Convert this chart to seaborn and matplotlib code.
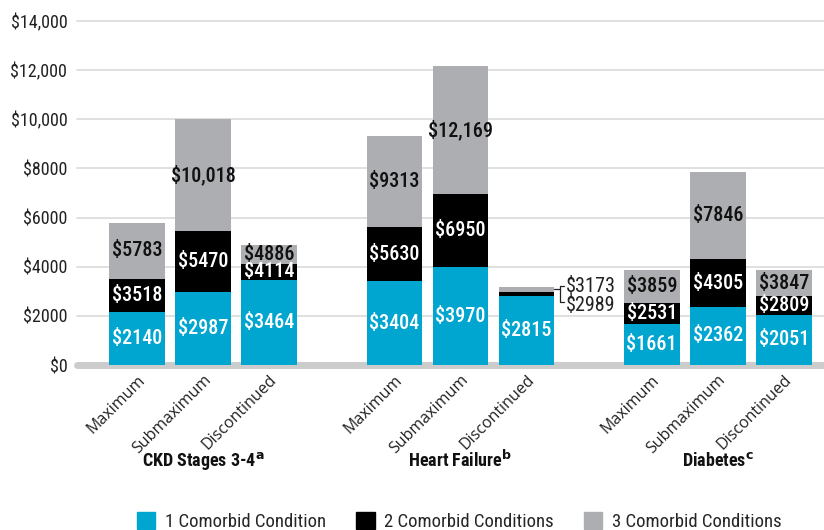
import matplotlib
matplotlib.use("Agg")
import matplotlib.pyplot as plt
import seaborn as sns
from matplotlib.patches import Patch
from matplotlib import font_manager as fm

# Data (cumulative cost per comorbidity count)
groups = ["CKD Stages 3-4$^{\\mathbf{a}}$", "Heart Failure$^{\\mathbf{b}}$", "Diabetes$^{\\mathbf{c}}$"]
doses = ["Maximum", "Submaximum", "Discontinued"]
one_cond = [2140, 2987, 3464, 3404, 3970, 2815, 1661, 2362, 2051]
two_cond = [3518, 5470, 4114, 5630, 6950, 2989, 2531, 4305, 2809]
three_cond = [5783, 10018, 4886, 9313, 12169, 3173, 3859, 7846, 3847]
series_names = ["1 Comorbid Condition", "2 Comorbid Conditions", "3 Comorbid Conditions"]

BLUE = "#00a5d0"
BLACK = "#000000"
GRAY = "#adaeb1"

sns.set_theme(style="white")

# pick a narrow font if one is there
fonts = fm.fontManager.ttflist
names = {f.name for f in fonts}
stretch = "normal"
family = None
for cand in ["Liberation Sans Narrow", "DejaVu Sans Condensed", "Roboto Condensed", "Open Sans Condensed"]:
    if cand in names:
        family = cand
        break
if family is None:
    if any(f.name == "DejaVu Sans" and f.stretch in ("condensed", "semi-condensed") for f in fonts):
        family, stretch = "DejaVu Sans", "condensed"
    else:
        family = "Roboto" if "Roboto" in names else "DejaVu Sans"
narrow = family != "Roboto" and not (family == "DejaVu Sans" and stretch == "normal")
plt.rcParams["font.family"] = [family, "DejaVu Sans"]
plt.rcParams["font.stretch"] = stretch
plt.rcParams["mathtext.fontset"] = "dejavusans"

fs_tick = 13 if narrow else 12
fs_val = 14.5 if narrow else 13
fs_leg = 13.5 if narrow else 11.5

# layout: 3 groups of 3 bars
pos = [g * 3.9 + i for g in range(3) for i in range(3)]

fig = plt.figure(figsize=(8.24, 5.30), dpi=100)
ax = fig.add_axes([77 / 824, 165 / 530, 1 - 77 / 824, 344 / 530])

for vals, col in [(three_cond, GRAY), (two_cond, BLACK), (one_cond, BLUE)]:
    sns.barplot(x=pos, y=vals, native_scale=True, color=col, width=0.845,
                saturation=1, errorbar=None, linewidth=0, edgecolor="none",
                ax=ax, zorder=3)

ax.set_xlim(-0.91, 10.41)
ax.set_ylim(0, 14000)
yt = list(range(0, 14001, 2000))
ax.set_yticks(yt)
ax.set_yticklabels([f"${v:,}" if v >= 10000 else f"${v}" for v in yt],
                   fontsize=fs_tick, color="#222222")
ax.tick_params(axis="y", length=0, pad=7)
for v in yt[1:]:
    ax.axhline(v, color="#dddddd", lw=1.3, zorder=1, clip_on=False)
ax.axhline(0, color="#cccccc", lw=5, zorder=2, clip_on=False)
for s in ax.spines.values():
    s.set_visible(False)

ax.set_xticks(pos)
ax.set_xticklabels(doses * 3, rotation=45, ha="right", va="top",
                   rotation_mode="anchor", fontsize=11.5, color="#222222",
                   family=["Open Sans", "DejaVu Sans"])
ax.tick_params(axis="x", length=0, pad=5)
ax.set_xlabel("")
ax.set_ylabel("")

# value labels
for k, x in enumerate(pos):
    a, b, c = one_cond[k], two_cond[k], three_cond[k]
    ax.text(x, a / 2, f"${a}", ha="center", va="center", color="white",
            fontsize=fs_val, fontweight="medium", zorder=5)
    if k == 5:
        xr = x + 0.845 / 2
        xa, xb = xr + 0.09, xr + 0.15
        ym = (b + c) / 2
        ax.plot([xr, xa, xa, xb], [ym, ym, 3220, 3220], color="#222222", lw=0.9, clip_on=False)
        ax.plot([xa, xa, xb], [ym, 2560, 2560], color="#222222", lw=0.9, clip_on=False)
        ax.text(xb + 0.02, 3200, f"${c}", ha="left", va="center",
                color="#222222", fontsize=fs_val)
        ax.text(xb + 0.02, 2430, f"${b}", ha="left", va="center",
                color="#222222", fontsize=fs_val)
        continue
    ax.text(x, (a + b) / 2, f"${b}", ha="center", va="center", color="white",
            fontsize=fs_val, fontweight="medium", zorder=5)
    ax.text(x, (b + c) / 2, f"${c:,}" if c >= 10000 else f"${c}", ha="center",
            va="center", color="#111111", fontsize=fs_val, fontweight="medium", zorder=5)

# group labels
for g, name in enumerate(groups):
    ax.text(g * 3.9 + 1, -0.295, name, transform=ax.get_xaxis_transform(),
            ha="center", va="baseline", fontsize=fs_tick, fontweight="bold", color="#111111")

handles = [Patch(color=c) for c in (BLUE, BLACK, GRAY)]
fig.legend(handles, series_names, loc="center", bbox_to_anchor=(0.557, 0.016),
           ncol=3, frameon=False, fontsize=fs_leg, handlelength=1.0, handleheight=1.0,
           columnspacing=1.6, handletextpad=0.5)

fig.savefig("out.png", dpi=100)
